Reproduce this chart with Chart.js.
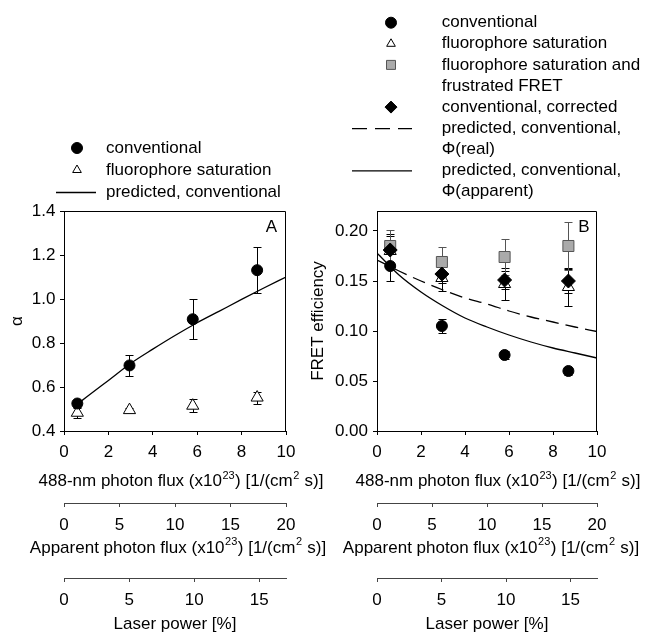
<!DOCTYPE html>
<html lang="en">
<head>
<meta charset="UTF-8">
<title>Alpha and FRET efficiency vs photon flux</title>
<style>
  body { margin: 0; background: #fff; }
  #wrapA { position: absolute; left: 0; top: 0; width: 330px; height: 633px; }
  #wrapB { position: absolute; left: 300px; top: 0; width: 356px; height: 633px; }
</style>
</head>
<body>
<div id="wrapA"><canvas id="chartA" width="330" height="633"></canvas></div>
<div id="wrapB"><canvas id="chartB" width="356" height="633"></canvas></div>

<script src="https://cdn.jsdelivr.net/npm/chart.js"></script>
<script>
// measured points (x = 488-nm photon flux, x10^23)
const fluxPts = [0.6, 2.95, 5.8, 8.7];

// panel A: alpha
const alphaConv = [0.525, 0.698, 0.908, 1.131];
const alphaConvErr = [0.015, 0.048, 0.091, 0.104];
const alphaSat = [0.483, 0.495, 0.515, 0.552];
const alphaSatErr = [0.022, 0.008, 0.030, 0.027];
const alphaPredX = [0.6, 1, 2, 3, 4, 5, 6, 7, 8, 9, 10];
const alphaPred = [0.522, 0.553, 0.630, 0.707, 0.772, 0.834, 0.892, 0.945, 0.998, 1.050, 1.100];

// panel B: FRET efficiency
const fretConv = [0.165, 0.105, 0.076, 0.060];
const fretConvErr = [0.015, 0.007, 0.004, 0.004];
const fretSat = [0.180, 0.153, 0.147, 0.144];
const fretSatErr = [0.015, 0.013, 0.016, 0.019];
const fretFrus = [0.185, 0.169, 0.174, 0.185];
const fretFrusErr = [0.016, 0.015, 0.018, 0.024];
const fretCorr = [0.181, 0.157, 0.151, 0.150];
const fretCorrErr = [0.016, 0.009, 0.009, 0.012];
const fretPredX = [0, 1, 2, 3, 4, 5, 6, 7, 8, 9, 10];
const fretPredReal = [0.171, 0.160, 0.150, 0.141, 0.133, 0.127, 0.120, 0.114, 0.109, 0.104, 0.0995];
const fretPredApp = [0.178, 0.156, 0.139, 0.125, 0.113, 0.104, 0.096, 0.089, 0.083, 0.078, 0.073];

// axes: [min, max, step]
const fluxAxis = [0, 10, 2];
const apparentAxis = [0, 20, 5];
const laserAxis = [0, 17.05, 5];
const alphaAxis = [0.4, 1.4, 0.2];
const fretAxis = [0, 0.22, 0.05];

// axis titles, split into normal / superscript runs
const fluxTitle = [['488-nm photon flux (x10'], ['23', 'sup'], [') [1/(cm'], ['2', 'sup'], [' s)]']];
const apparentTitle = [['Apparent photon flux (x10'], ['23', 'sup'], [') [1/(cm'], ['2', 'sup'], [' s)]']];
const laserTitle = 'Laser power [%]';

const legendA = [['conventional'], ['fluorophore saturation'], ['predicted, conventional']];
const legendB = [
  ['conventional'],
  ['fluorophore saturation'],
  ['fluorophore saturation and', 'frustrated FRET'],
  ['conventional, corrected'],
  ['predicted, conventional,', '\u03A6(real)'],
  ['predicted, conventional,', '\u03A6(apparent)']
];

const FONT = "'Liberation Sans', Arial, sans-serif";
Chart.defaults.font.family = FONT;
Chart.defaults.font.size = 17;
Chart.defaults.color = '#000';

function pts(xs, ys) {
  return xs.map((x, i) => ({ x: x, y: ys[i] }));
}

// symbol drawing for the legends
function drawSymbol(ctx, s, x, y) {
  ctx.save();
  ctx.fillStyle = s.fill;
  ctx.strokeStyle = s.stroke;
  ctx.lineWidth = 1;
  ctx.beginPath();
  const r = s.r;
  if (s.shape === 'circle') {
    ctx.arc(x, y, r, 0, Math.PI * 2);
  } else if (s.shape === 'triangle') {
    ctx.moveTo(x, y - r);
    ctx.lineTo(x + r * 0.866, y + r / 2);
    ctx.lineTo(x - r * 0.866, y + r / 2);
    ctx.closePath();
  } else if (s.shape === 'square') {
    ctx.rect(x - r, y - r, 2 * r, 2 * r);
  } else if (s.shape === 'diamond') {
    ctx.moveTo(x - r, y); ctx.lineTo(x, y - r); ctx.lineTo(x + r, y); ctx.lineTo(x, y + r);
    ctx.closePath();
  }
  ctx.fill();
  ctx.stroke();
  ctx.restore();
}

const errorBars = {
  id: 'errorBars',
  beforeDatasetsDraw(chart) {
    const ctx = chart.ctx;
    const yScale = chart.scales.y;
    chart.data.datasets.forEach((ds, i) => {
      if (!ds.errors) return;
      const meta = chart.getDatasetMeta(i);
      ctx.save();
      ctx.strokeStyle = ds.errorColor || '#000';
      ctx.lineWidth = 1;
      meta.data.forEach((pt, j) => {
        const v = ds.data[j].y, e = ds.errors[j];
        const x = Math.round(pt.x) + 0.5;
        const yt = Math.round(yScale.getPixelForValue(v + e)) + 0.5;
        const yb = Math.round(yScale.getPixelForValue(v - e)) + 0.5;
        ctx.beginPath();
        ctx.moveTo(x, yt); ctx.lineTo(x, yb);
        ctx.moveTo(x - 4, yt); ctx.lineTo(x + 4, yt);
        ctx.moveTo(x - 4, yb); ctx.lineTo(x + 4, yb);
        ctx.stroke();
      });
      ctx.restore();
    });
  }
};

const frame = {
  id: 'frame',
  afterDraw(chart, args, opts) {
    const { ctx, chartArea: a } = chart;
    ctx.save();
    ctx.strokeStyle = '#000';
    ctx.lineWidth = 1;
    ctx.beginPath();
    const l = Math.round(a.left) + 0.5, r = Math.round(a.right) - 0.5, t = Math.round(a.top) + 0.5;
    ctx.moveTo(l, t); ctx.lineTo(r, t); ctx.lineTo(r, Math.round(a.bottom));
    ctx.stroke();
    // panel letter
    ctx.font = '17px ' + FONT;
    ctx.fillStyle = '#000';
    ctx.textAlign = 'center';
    ctx.textBaseline = 'middle';
    ctx.fillText(opts.letter, a.right - opts.letterDx, a.top + opts.letterDy);
    ctx.restore();
  }
};

// x-axis titles with superscripts, centred under their own scale (plus a small shift)
const richTitles = {
  id: 'richTitles',
  afterDraw(chart, args, opts) {
    const ctx = chart.ctx;
    opts.titles.forEach(t => {
      const sc = chart.scales[t.scale];
      ctx.save();
      ctx.fillStyle = '#000';
      ctx.textBaseline = 'middle';
      ctx.textAlign = 'left';
      const fontN = '17px ' + FONT, fontS = '11px ' + FONT;
      let w = 0;
      t.runs.forEach(r => { ctx.font = r[1] ? fontS : fontN; w += ctx.measureText(r[0]).width + (r[1] ? 1 : 0); });
      let x = (sc.left + sc.right) / 2 + t.dx - w / 2;
      const y = sc.bottom - t.fromBottom;
      t.runs.forEach(r => {
        ctx.font = r[1] ? fontS : fontN;
        ctx.fillText(r[0], x + (r[1] ? 0.5 : 0), r[1] ? y - 6 : y);
        x += ctx.measureText(r[0]).width + (r[1] ? 1 : 0);
      });
      ctx.restore();
    });
  }
};

function xAxis(range, title, weight, height, tickPad, titlePad, col, bounds) {
  return {
    type: 'linear', position: 'bottom', weight: weight,
    min: range[0], max: range[1],
    ticks: { stepSize: range[2], padding: tickPad, maxRotation: 0, autoSkip: false,
             includeBounds: bounds, font: { size: 17, lineHeight: 1.2 }, color: '#000' },
    grid: { drawOnChartArea: false, tickLength: 4, color: col },
    border: { color: col, width: 1 },
    title: { display: !!title, text: title || '', color: '#000',
             font: { size: 17, lineHeight: 1 }, padding: { top: 0, bottom: titlePad } },
    afterFit(s) { s.height = height; }
  };
}

function yAxis(range, title, width, tickPad, titlePad, digits) {
  return {
    type: 'linear', position: 'left',
    min: range[0], max: range[1],
    ticks: { stepSize: range[2], padding: tickPad, includeBounds: false,
             font: { size: 17 }, color: '#000',
             callback: v => Number(v).toFixed(digits) },
    grid: { drawOnChartArea: false, tickLength: 4, color: '#000' },
    border: { color: '#000', width: 1 },
    title: { display: true, text: title, color: '#000',
             font: { size: 17, lineHeight: 1 }, padding: { top: titlePad, bottom: 0 } },
    afterFit(s) { s.width = width; }
  };
}

function scalesFor(yRange, yTitle, yWidth, yTickPad, yTitlePad, digits) {
  return {
    x: xAxis(fluxAxis, null, 0, 72, 7.5, 0, '#000', true),
    x2: xAxis(apparentAxis, null, 1, 75, 8.5, 0, '#444', true),
    x3: xAxis(laserAxis, laserTitle, 2, 55, 7.8, 0, '#444', false),
    y: yAxis(yRange, yTitle, yWidth, yTickPad, yTitlePad, digits)
  };
}

// Panel A
new Chart(document.getElementById('chartA'), {
  type: 'scatter',
  data: {
    datasets: [
      { label: 'conventional', data: pts(fluxPts, alphaConv), errors: alphaConvErr, order: 0,
        pointStyle: 'circle', pointRadius: 5.5, backgroundColor: '#000', borderColor: '#000', borderWidth: 1 },
      { label: 'fluorophore saturation', data: pts(fluxPts, alphaSat), errors: alphaSatErr, order: 1,
        pointStyle: 'triangle', pointRadius: 7, backgroundColor: '#fff', borderColor: '#000', borderWidth: 1 },
      { label: 'predicted, conventional', data: pts(alphaPredX, alphaPred), order: 2,
        showLine: true, pointRadius: 0, borderColor: '#000', borderWidth: 1.3,
        cubicInterpolationMode: 'monotone' }
    ]
  },
  options: {
    responsive: false, animation: false, devicePixelRatio: 1,
    layout: { padding: { top: 211, right: 44, left: 0, bottom: 0 } },
    scales: scalesFor(alphaAxis, '\u03B1', 64, 4.5, 8.5, 1),
    plugins: {
      legend: { display: false }, tooltip: { enabled: false },
      frame: { letter: 'A', letterDx: 14.5, letterDy: 16.5 },
      richTitles: { titles: [
        { scale: 'x', runs: fluxTitle, dx: 6, fromBottom: 21.3 },
        { scale: 'x2', runs: apparentTitle, dx: 3, fromBottom: 29.7 }
      ] },
      sideLegend: {
        labels: legendA, y0: 148, step: 22, symX: 77, lineX1: 56, lineX2: 96, textX: 106,
        items: [
          { shape: 'circle', r: 5.5, fill: '#000', stroke: '#000' },
          { shape: 'triangle', r: 5, fill: '#fff', stroke: '#000' },
          { line: true }
        ]
      }
    }
  },
  plugins: [errorBars, frame, richTitles, {
    id: 'sideLegend',
    afterDraw: (c, a, o) => drawLegend(c, o)
  }]
});

function drawLegend(chart, opts) {
  const ctx = chart.ctx;
  let y = opts.y0;
  opts.items.forEach((it, k) => {
    const lines = opts.labels[k];
    ctx.save();
    if (it.line) {
      ctx.strokeStyle = '#000';
      ctx.lineWidth = 1.3;
      ctx.setLineDash(it.dash || []);
      ctx.beginPath();
      ctx.moveTo(opts.lineX1, y + 0.5);
      ctx.lineTo(opts.lineX2, y + 0.5);
      ctx.stroke();
    } else {
      drawSymbol(ctx, it, opts.symX, y);
    }
    ctx.restore();
    ctx.save();
    ctx.font = '17px ' + FONT;
    ctx.fillStyle = '#000';
    ctx.textAlign = 'left';
    ctx.textBaseline = 'middle';
    lines.forEach(t => {
      ctx.fillText(t, opts.textX, y);
      y += opts.step;
    });
    ctx.restore();
  });
}

// Panel B
new Chart(document.getElementById('chartB'), {
  type: 'scatter',
  data: {
    datasets: [
      { label: 'conventional, corrected', data: pts(fluxPts, fretCorr), errors: fretCorrErr, order: 0,
        pointStyle: 'rectRot', pointRadius: 7, backgroundColor: '#000', borderColor: '#000', borderWidth: 1 },
      { label: 'conventional', data: pts(fluxPts, fretConv), errors: fretConvErr, order: 1,
        pointStyle: 'circle', pointRadius: 5.5, backgroundColor: '#000', borderColor: '#000', borderWidth: 1 },
      { label: 'fluorophore saturation', data: pts(fluxPts, fretSat), errors: fretSatErr, order: 2,
        pointStyle: 'triangle', pointRadius: 7, backgroundColor: '#fff', borderColor: '#000', borderWidth: 1 },
      { label: 'fluorophore saturation and frustrated FRET', data: pts(fluxPts, fretFrus), errors: fretFrusErr,
        errorColor: '#555', order: 3,
        pointStyle: 'rect', pointRadius: 7.8, backgroundColor: '#aaaaaa', borderColor: '#555', borderWidth: 1 },
      { label: 'predicted, conventional, \u03A6(real)', data: pts(fretPredX, fretPredReal), order: 4,
        showLine: true, pointRadius: 0, borderColor: '#000', borderWidth: 1.3, borderDash: [13, 7],
        cubicInterpolationMode: 'monotone' },
      { label: 'predicted, conventional, \u03A6(apparent)', data: pts(fretPredX, fretPredApp), order: 5,
        showLine: true, pointRadius: 0, borderColor: '#000', borderWidth: 1.3,
        cubicInterpolationMode: 'monotone' }
    ]
  },
  options: {
    responsive: false, animation: false, devicePixelRatio: 1,
    layout: { padding: { top: 211, right: 59, left: 0, bottom: 0 } },
    scales: scalesFor(fretAxis, 'FRET efficiency', 77, 5, 9.5, 2),
    plugins: {
      legend: { display: false }, tooltip: { enabled: false },
      frame: { letter: 'B', letterDx: 13, letterDy: 16 },
      richTitles: { titles: [
        { scale: 'x', runs: fluxTitle, dx: 11, fromBottom: 21.3 },
        { scale: 'x2', runs: apparentTitle, dx: 4, fromBottom: 29.7 }
      ] },
      sideLegend: {
        labels: legendB, y0: 22.7, step: 21.1, symX: 91, lineX1: 52, lineX2: 112, textX: 141.7,
        items: [
          { shape: 'circle', r: 5.5, fill: '#000', stroke: '#000' },
          { shape: 'triangle', r: 5, fill: '#fff', stroke: '#000' },
          { shape: 'square', r: 4.5, fill: '#aaaaaa', stroke: '#555' },
          { shape: 'diamond', r: 6, fill: '#000', stroke: '#000' },
          { line: true, dash: [15, 8] },
          { line: true }
        ]
      }
    }
  },
  plugins: [errorBars, frame, richTitles, {
    id: 'sideLegend',
    afterDraw: (c, a, o) => drawLegend(c, o)
  }]
});
</script>
</body>
</html>
